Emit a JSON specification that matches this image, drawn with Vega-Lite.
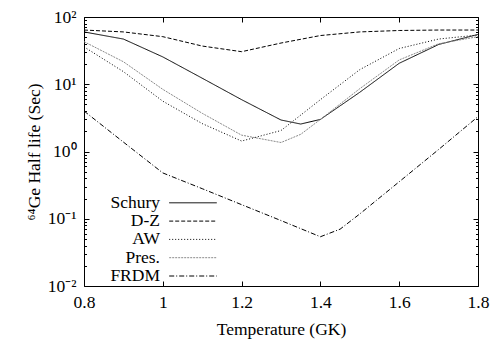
{
  "$schema": "https://vega.github.io/schema/vega-lite/v6.json",
  "width": 394,
  "height": 269,
  "autosize": "none",
  "padding": {"left": 84, "top": 17, "right": 13, "bottom": 54},
  "config": {
    "font": "Liberation Serif",
    "view": {"stroke": "black", "strokeWidth": 1},
    "axis": {
      "domain": false,
      "grid": false,
      "tickColor": "black",
      "tickWidth": 1,
      "labelFont": "Liberation Serif",
      "labelFontSize": 17.5,
      "labelColor": "black",
      "titleFont": "Liberation Serif",
      "titleFontSize": 17.5,
      "titleFontWeight": "normal",
      "titleColor": "black"
    },
    "legend": {
      "labelFont": "Liberation Serif",
      "labelFontSize": 17.5,
      "labelColor": "black"
    }
  },
  "data": {
    "values": [
      {"model": "Schury", "T": 0.8, "t": 60},
      {"model": "Schury", "T": 0.9, "t": 47},
      {"model": "Schury", "T": 1.0, "t": 25.5},
      {"model": "Schury", "T": 1.1, "t": 12.3},
      {"model": "Schury", "T": 1.2, "t": 5.9},
      {"model": "Schury", "T": 1.3, "t": 2.94},
      {"model": "Schury", "T": 1.35, "t": 2.56},
      {"model": "Schury", "T": 1.4, "t": 3.0},
      {"model": "Schury", "T": 1.5, "t": 7.6},
      {"model": "Schury", "T": 1.6, "t": 20.5},
      {"model": "Schury", "T": 1.7, "t": 39},
      {"model": "Schury", "T": 1.8, "t": 55},
      {"model": "D-Z", "T": 0.8, "t": 64},
      {"model": "D-Z", "T": 0.9, "t": 60},
      {"model": "D-Z", "T": 1.0, "t": 51},
      {"model": "D-Z", "T": 1.1, "t": 37},
      {"model": "D-Z", "T": 1.2, "t": 30.5},
      {"model": "D-Z", "T": 1.3, "t": 41},
      {"model": "D-Z", "T": 1.4, "t": 53},
      {"model": "D-Z", "T": 1.5, "t": 60},
      {"model": "D-Z", "T": 1.6, "t": 63},
      {"model": "D-Z", "T": 1.7, "t": 64},
      {"model": "D-Z", "T": 1.8, "t": 64},
      {"model": "AW", "T": 0.8, "t": 36},
      {"model": "AW", "T": 0.9, "t": 15.4},
      {"model": "AW", "T": 1.0, "t": 5.6},
      {"model": "AW", "T": 1.1, "t": 2.6},
      {"model": "AW", "T": 1.2, "t": 1.43},
      {"model": "AW", "T": 1.3, "t": 2.05},
      {"model": "AW", "T": 1.4, "t": 5.9},
      {"model": "AW", "T": 1.5, "t": 16.5},
      {"model": "AW", "T": 1.6, "t": 34},
      {"model": "AW", "T": 1.7, "t": 47},
      {"model": "AW", "T": 1.8, "t": 54},
      {"model": "Pres.", "T": 0.8, "t": 43},
      {"model": "Pres.", "T": 0.9, "t": 21.6},
      {"model": "Pres.", "T": 1.0, "t": 8.4},
      {"model": "Pres.", "T": 1.1, "t": 3.7},
      {"model": "Pres.", "T": 1.2, "t": 1.75},
      {"model": "Pres.", "T": 1.3, "t": 1.36},
      {"model": "Pres.", "T": 1.35, "t": 1.8},
      {"model": "Pres.", "T": 1.4, "t": 3.0},
      {"model": "Pres.", "T": 1.5, "t": 8.6},
      {"model": "Pres.", "T": 1.6, "t": 23},
      {"model": "Pres.", "T": 1.7, "t": 40},
      {"model": "Pres.", "T": 1.8, "t": 51},
      {"model": "FRDM", "T": 0.8, "t": 4.0},
      {"model": "FRDM", "T": 0.9, "t": 1.38},
      {"model": "FRDM", "T": 1.0, "t": 0.48},
      {"model": "FRDM", "T": 1.1, "t": 0.28},
      {"model": "FRDM", "T": 1.2, "t": 0.162},
      {"model": "FRDM", "T": 1.3, "t": 0.094},
      {"model": "FRDM", "T": 1.4, "t": 0.054},
      {"model": "FRDM", "T": 1.45, "t": 0.07},
      {"model": "FRDM", "T": 1.5, "t": 0.118},
      {"model": "FRDM", "T": 1.6, "t": 0.355},
      {"model": "FRDM", "T": 1.7, "t": 1.07},
      {"model": "FRDM", "T": 1.8, "t": 3.3}
    ]
  },
  "layer": [
    {
      "mark": {"type": "line", "strokeWidth": 1, "clip": true},
      "encoding": {
        "x": {
          "field": "T", "type": "quantitative",
          "scale": {"domain": [0.8, 1.8], "nice": false, "zero": false},
          "axis": {
            "orient": "bottom", "values": [0.8, 1.0, 1.2, 1.4, 1.6, 1.8],
            "format": ".1~f", "tickSize": -5, "labelPadding": 12,
            "labelFont": "Liberation Serif", "titleFont": "Liberation Serif",
            "title": "Temperature (GK)", "titlePadding": 10, "labelFlush": false
          }
        },
        "y": {
          "field": "t", "type": "quantitative",
          "scale": {"type": "log", "domain": [0.01, 100], "nice": false},
          "axis": {
            "orient": "left", "values": [0.01, 0.1, 1, 10, 100],
            "tickSize": -5, "labelPadding": 13,
            "labelFont": "Liberation Serif", "titleFont": "Liberation Serif",
            "labelExpr": "datum.value >= 99 ? '10²' : datum.value >= 9 ? '10¹' : datum.value >= 0.9 ? '10⁰' : datum.value >= 0.09 ? '10⁻¹' : '10⁻²'",
            "title": "⁶⁴Ge Half life (Sec)", "titlePadding": 4, "labelFlush": false
          }
        },
        "color": {
          "field": "model", "type": "nominal",
          "scale": {
            "domain": ["Schury", "D-Z", "AW", "Pres.", "FRDM"],
            "range": ["#000000", "#000000", "#000000", "#8a8a8a", "#000000"]
          },
          "legend": {
            "title": null, "orient": "none", "legendX": 100, "legendY": 176.8,
            "padding": 0, "symbolType": "M-2.8,0H2.8", "symbolSize": 289,
            "symbolStrokeWidth": 1, "labelAlign": "right", "labelOffset": -42,
            "labelFont": "Liberation Serif",
            "rowPadding": 0.3
          }
        },
        "strokeDash": {
          "field": "model", "type": "nominal",
          "scale": {
            "domain": ["Schury", "D-Z", "AW", "Pres.", "FRDM"],
            "range": [[1, 0], [4, 2], [1, 2], [2, 1], [5, 2, 1, 2]]
          },
          "legend": {
            "title": null, "orient": "none", "legendX": 100, "legendY": 176.8,
            "padding": 0, "symbolType": "M-2.8,0H2.8", "symbolSize": 289,
            "symbolStrokeWidth": 1, "labelAlign": "right", "labelOffset": -42,
            "labelFont": "Liberation Serif",
            "rowPadding": 0.3
          }
        }
      }
    },
    {
      "mark": {"type": "line", "opacity": 0},
      "encoding": {
        "x": {
          "field": "T", "type": "quantitative",
          "scale": {"domain": [0.8, 1.8], "nice": false, "zero": false},
          "axis": {"orient": "top", "values": [0.8, 1.0, 1.2, 1.4, 1.6, 1.8], "tickSize": -5, "labels": false, "title": null}
        },
        "y": {
          "field": "t", "type": "quantitative",
          "scale": {"type": "log", "domain": [0.01, 100], "nice": false},
          "axis": {"orient": "right", "values": [0.01, 0.1, 1, 10, 100], "tickSize": -5, "labels": false, "title": null}
        },
        "detail": {"field": "model"}
      }
    },
    {
      "mark": {"type": "line", "opacity": 0},
      "encoding": {
        "x": {"field": "T", "type": "quantitative", "scale": {"domain": [0.8, 1.8], "nice": false, "zero": false}, "axis": null},
        "y": {
          "field": "t", "type": "quantitative",
          "scale": {"type": "log", "domain": [0.01, 100], "nice": false},
          "axis": {"orient": "left", "values": [0.02, 0.03, 0.04, 0.05, 0.06, 0.07, 0.08, 0.09, 0.2, 0.3, 0.4, 0.5, 0.6, 0.7, 0.8, 0.9, 2, 3, 4, 5, 6, 7, 8, 9, 20, 30, 40, 50, 60, 70, 80, 90], "tickSize": -2.5, "labels": false, "title": null}
        },
        "detail": {"field": "model"}
      }
    },
    {
      "mark": {"type": "line", "opacity": 0},
      "encoding": {
        "x": {"field": "T", "type": "quantitative", "scale": {"domain": [0.8, 1.8], "nice": false, "zero": false}, "axis": null},
        "y": {
          "field": "t", "type": "quantitative",
          "scale": {"type": "log", "domain": [0.01, 100], "nice": false},
          "axis": {"orient": "right", "values": [0.02, 0.03, 0.04, 0.05, 0.06, 0.07, 0.08, 0.09, 0.2, 0.3, 0.4, 0.5, 0.6, 0.7, 0.8, 0.9, 2, 3, 4, 5, 6, 7, 8, 9, 20, 30, 40, 50, 60, 70, 80, 90], "tickSize": -2.5, "labels": false, "title": null}
        },
        "detail": {"field": "model"}
      }
    }
  ],
  "resolve": {"axis": {"x": "independent", "y": "independent"}}
}
